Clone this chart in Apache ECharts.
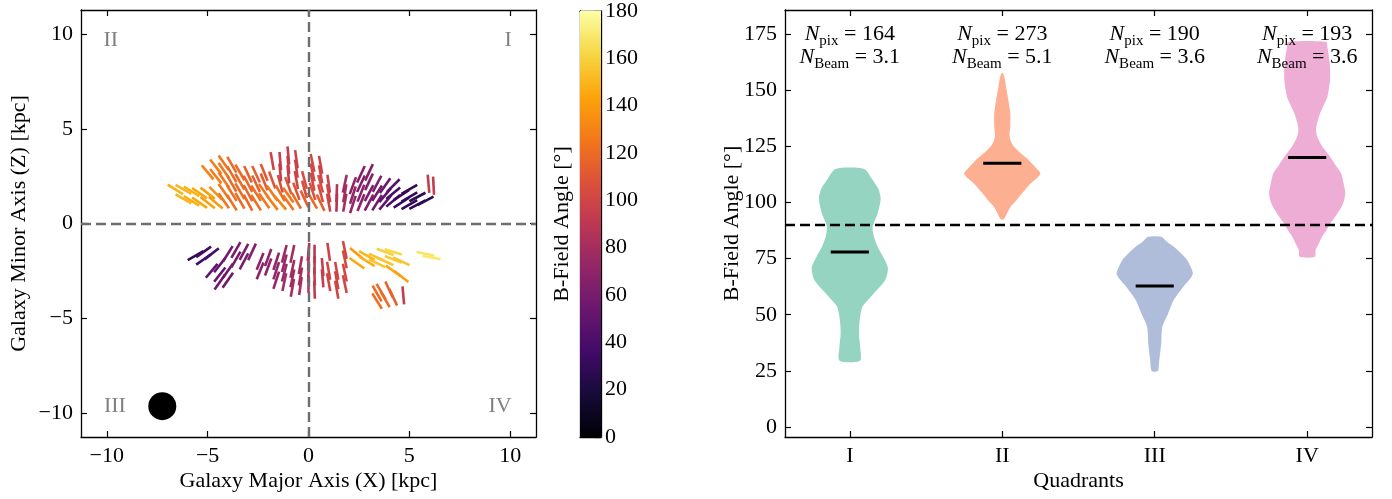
<!DOCTYPE html>
<html><head><meta charset="utf-8">
<script src="https://cdn.jsdelivr.net/npm/echarts@6/dist/echarts.min.js"></script>
<style>html,body{margin:0;padding:0;background:#fff}#c{width:1392px;height:499px}</style>
</head><body><div id="c"></div>
<script>
// ---------- DATA ----------
// Left panel: B-field vectors [x (kpc), z (kpc), angle (deg)]
const upperVectors = [
[-6.6,1.8,148],
[-6.2,1.3,150],[-6.2,1.8,150],
[-5.8,1.2,148],[-5.8,1.7,148],
[-5.4,1.1,145],[-5.4,1.6,145],
[-5.0,1.1,142],[-5.0,1.6,142],[-5.0,2.7,130],
[-4.6,1.1,140],[-4.6,1.6,135],[-4.6,2.5,128],[-4.6,3.0,128],
[-4.2,1.2,125],[-4.2,1.7,125],[-4.2,2.3,125],[-4.2,2.8,125],[-4.2,3.2,125],
[-3.8,1.1,122],[-3.8,1.6,122],[-3.8,2.1,120],[-3.8,2.6,120],[-3.8,3.1,120],
[-3.4,1.2,120],[-3.4,1.7,120],[-3.4,2.2,120],[-3.4,2.7,120],
[-3.0,1.1,118],[-3.0,1.6,118],[-3.0,2.1,118],[-3.0,2.6,115],
[-2.6,1.1,122],[-2.6,1.6,122],[-2.6,2.1,115],[-2.6,2.6,115],
[-2.2,1.2,125],[-2.2,1.7,125],[-2.2,2.2,112],[-2.2,2.7,112],
[-1.8,1.1,128],[-1.8,1.6,125],[-1.8,2.3,110],[-1.8,3.3,100],
[-1.4,1.1,130],[-1.4,1.6,120],[-1.4,2.1,105],[-1.4,2.7,95],[-1.4,3.3,95],
[-1.0,1.1,125],[-1.0,1.5,125],[-1.0,2.0,110],[-1.0,2.6,95],[-1.0,3.1,95],[-1.0,3.6,95],
[-0.6,1.2,120],[-0.6,1.7,110],[-0.6,2.3,100],[-0.6,2.9,98],[-0.6,3.4,98],
[-0.2,1.3,115],[-0.2,1.8,105],[-0.2,2.3,105],
[0.2,1.2,120],[0.2,1.7,108],[0.2,2.2,102],[0.2,2.7,102],[0.2,3.2,102],
[0.6,1.1,115],[0.6,1.6,105],[0.6,2.1,105],[0.6,2.6,100],[0.6,3.1,100],
[1.0,1.1,100],[1.0,1.6,100],[1.0,2.1,98],
[1.4,1.1,88],[1.4,1.6,88],
[1.8,1.1,80],[1.8,1.6,80],[1.8,2.1,78],
[2.2,1.0,72],[2.2,1.5,72],[2.2,2.0,70],
[2.6,1.1,68],[2.6,1.6,68],[2.6,2.1,65],[2.6,2.6,65],
[3.0,1.1,62],[3.0,1.6,62],[3.0,2.2,65],[3.0,2.7,65],
[3.4,1.1,58],[3.4,1.6,58],[3.4,2.1,62],
[3.8,1.1,50],[3.8,1.5,50],[3.8,2.0,55],
[4.2,1.2,40],[4.2,1.6,40],[4.2,2.0,45],
[4.6,1.1,33],[4.6,1.5,33],
[5.0,1.0,30],[5.0,1.4,30],[5.0,1.8,30],
[5.4,1.0,28],[5.4,1.4,28],
[5.8,1.2,28],
[5.95,2.1,95],[6.2,2.0,93]
];
const lowerVectors = [
[-5.6,-1.7,30],
[-5.2,-1.5,35],[-5.2,-1.9,35],
[-4.8,-1.6,38],[-4.8,-2.5,50],
[-4.4,-2.2,52],[-4.4,-2.7,52],[-4.4,-3.1,55],
[-4.0,-1.6,58],[-4.0,-2.5,55],[-4.0,-3.0,55],
[-3.6,-1.4,60],[-3.6,-1.9,60],
[-3.2,-1.5,62],[-3.2,-2.0,62],
[-2.8,-1.5,65],
[-2.4,-2.0,68],[-2.4,-2.5,68],
[-2.0,-1.8,70],[-2.0,-2.3,70],
[-1.6,-2.0,72],[-1.6,-2.5,72],[-1.6,-3.0,72],
[-1.2,-1.6,75],[-1.2,-2.1,75],[-1.2,-2.6,75],[-1.2,-3.1,78],
[-0.8,-1.6,78],[-0.8,-2.4,78],[-0.8,-2.9,78],[-0.8,-3.4,80],
[-0.4,-2.2,80],[-0.4,-2.8,80],[-0.4,-3.3,82],
[0.0,-1.5,85],[0.0,-2.0,88],[0.0,-2.6,88],[0.0,-3.2,90],
[0.3,-1.6,90],[0.3,-2.2,90],[0.3,-2.8,92],[0.3,-3.5,92],
[0.7,-2.3,95],[0.7,-2.9,95],
[1.0,-1.5,98],[1.0,-2.5,100],[1.0,-3.1,100],
[1.4,-2.5,100],[1.4,-3.0,100],[1.4,-3.5,100],
[1.8,-1.4,102],[1.8,-1.9,102],[1.8,-2.6,102],[1.8,-3.2,102],
[2.4,-1.6,140],[2.4,-2.1,145],
[2.9,-1.7,150],[2.9,-2.0,148],
[3.4,-1.8,155],[3.4,-2.1,155],[3.4,-3.7,120],[3.4,-4.1,122],
[3.8,-1.5,160],[3.8,-2.0,155],[3.6,-3.6,120],[3.8,-4.0,120],
[4.2,-1.5,163],[4.2,-1.9,158],[4.2,-2.5,145],[4.0,-3.5,115],[4.2,-3.9,115],
[4.6,-2.0,155],[4.6,-2.8,142],[4.7,-3.8,95],
[5.8,-1.6,168],[6.1,-1.8,170]
];
const quadrantLabels = [[-9.8, 9.7, 'II'], [9.9, 9.7, 'I'], [-9.6, -9.65, 'III'], [9.5, -9.65, 'IV']];
const beamPos = [[-7.25, -9.65]];
const xyTicks = [-10, -5, 0, 5, 10];

// Colorbar
const cbarTicks = [0, 20, 40, 60, 80, 100, 120, 140, 160, 180];

// Right panel: violins, profile = [angle, relative half-width]
const quadrantNames = ['I', 'II', 'III', 'IV'];
const violinI = [[29.5,0.27],[35.8,0.27],[41.7,0.24],[47.6,0.26],[53.6,0.33],[56.5,0.47],[59.5,0.63],[65.5,0.93],[70.7,1.0],[75,0.9],[80.3,0.73],[85,0.63],[89.2,0.6],[95.1,0.73],[101.8,0.81],[106,0.75],[110,0.6],[114.9,0.375]];
const violinII = [[92.5,0.04],[95,0.12],[98.1,0.22],[100.5,0.35],[103.3,0.48],[106,0.62],[108.5,0.75],[111,0.92],[113,1.0],[115.5,0.88],[117.5,0.77],[119.6,0.65],[122,0.48],[124.8,0.31],[127.5,0.22],[130,0.19],[133.7,0.21],[139.7,0.21],[145.6,0.16],[151.5,0.1],[155.5,0.06],[157.5,0.02]];
const violinIII = [[24.9,0.08],[29.8,0.12],[37.3,0.17],[44.7,0.2],[50.6,0.35],[56.6,0.5],[62.5,0.75],[66,0.93],[68.4,1.0],[71,0.95],[74.4,0.85],[77.5,0.68],[80.3,0.5],[82.5,0.32],[84.7,0.17]];
const violinIV = [[75.8,0.2],[78.8,0.22],[81.5,0.3],[84.7,0.39],[87.5,0.5],[90.7,0.61],[93.5,0.73],[96.6,0.85],[100,0.95],[104.1,1.0],[108,0.96],[113,0.89],[116.5,0.75],[120.4,0.6],[123.5,0.46],[126.3,0.35],[129,0.27],[132.3,0.23],[136,0.27],[139.7,0.34],[143.5,0.44],[147,0.53],[154.5,0.6],[160,0.6],[165,0.57],[169,0.53],[171.5,0.5]];
const medians = [77.9, 117.5, 62.8, 120.0];
const nPix = [164, 273, 190, 193];
const nBeam = [3.1, 5.1, 3.6, 3.6];
const refAngle = 90;
const rightYTicks = [0, 25, 50, 75, 100, 125, 150, 175];

// ---------- STYLE ----------
const FONT = 'Liberation Serif';
const FS = 22;
const inferno = ['#000004','#160b39','#420a68','#6a176e','#932667','#bc3754','#dd513a','#f37819','#fca50a','#f6d746','#fcffa4'];
const set2 = ['#66c2a5', '#fc8d62', '#8da0cb', '#e78ac3'];
const violins = [violinI, violinII, violinIII, violinIV];
const VW = 0.25; // max half width in category units
const minus = v => String(v).replace('-', '\u2212');

const chart = echarts.init(document.getElementById('c'), null, {renderer: 'canvas'});

function frameAxis(base) {
  return Object.assign({
    axisLine: {show: true, onZero: false, lineStyle: {color: '#000', width: 1.3}},
    axisTick: {show: true, inside: true, length: 6, lineStyle: {color: '#000', width: 1.2}},
    splitLine: {show: false},
    axisLabel: {show: false},
    nameMoveOverlap: false
  }, base);
}
const tick = vals => ({show: true, inside: true, length: 6, customValues: vals, lineStyle: {color: '#000', width: 1.2}});
const lab = {show: true, color: '#000', fontFamily: FONT, fontSize: FS, margin: 8};
const nameStyle = {color: '#000', fontFamily: FONT, fontSize: FS};
const LIM = 11.28;

const option = {
  animation: false,
  backgroundColor: '#fff',
  grid: [
    {left: 81, top: 10, width: 455, height: 427},
    {left: 580, top: 10, width: 21, height: 427},
    {left: 785, top: 10, width: 587, height: 427}
  ],
  xAxis: [
    frameAxis({gridIndex: 0, type: 'value', min: -LIM, max: LIM, position: 'bottom', axisTick: tick(xyTicks),
      axisLabel: Object.assign({}, lab, {customValues: xyTicks, formatter: minus}),
      name: 'Galaxy Major Axis (X) [kpc]', nameLocation: 'middle', nameGap: 33, nameTextStyle: nameStyle}),
    frameAxis({gridIndex: 0, type: 'value', min: -LIM, max: LIM, position: 'top', axisTick: tick(xyTicks)}),
    frameAxis({gridIndex: 1, type: 'value', min: 0, max: 1, position: 'bottom', axisTick: {show: false}}),
    frameAxis({gridIndex: 1, type: 'value', min: 0, max: 1, position: 'top', axisTick: {show: false}}),
    frameAxis({gridIndex: 2, type: 'value', min: 0.575, max: 4.425, position: 'bottom', axisTick: tick([1, 2, 3, 4]),
      axisLabel: Object.assign({}, lab, {customValues: [1, 2, 3, 4], formatter: v => quadrantNames[Math.round(v) - 1]}),
      name: 'Quadrants', nameLocation: 'middle', nameGap: 33, nameTextStyle: nameStyle}),
    frameAxis({gridIndex: 2, type: 'value', min: 0.575, max: 4.425, position: 'top', axisTick: tick([1, 2, 3, 4])})
  ],
  yAxis: [
    frameAxis({gridIndex: 0, type: 'value', min: -LIM, max: LIM, position: 'left', axisTick: tick(xyTicks),
      axisLabel: Object.assign({}, lab, {customValues: xyTicks, formatter: minus}),
      name: 'Galaxy Minor Axis (Z) [kpc]', nameLocation: 'middle', nameGap: 51, nameRotate: 90, nameTextStyle: nameStyle}),
    frameAxis({gridIndex: 0, type: 'value', min: -LIM, max: LIM, position: 'right', axisTick: tick(xyTicks)}),
    frameAxis({gridIndex: 1, type: 'value', min: 0, max: 180, position: 'right', axisTick: tick(cbarTicks),
      axisLabel: Object.assign({}, lab, {customValues: cbarTicks, margin: 4})}),
    frameAxis({gridIndex: 1, type: 'value', min: 0, max: 180, position: 'left', axisTick: {show: false},
      name: 'B-Field Angle [°]', nameLocation: 'middle', nameGap: 7, nameRotate: 90, nameTextStyle: nameStyle}),
    frameAxis({gridIndex: 2, type: 'value', min: -4.45, max: 185.7, position: 'left', axisTick: tick(rightYTicks),
      axisLabel: Object.assign({}, lab, {customValues: rightYTicks}),
      name: 'B-Field Angle [°]', nameLocation: 'middle', nameGap: 42, nameRotate: 90, nameTextStyle: nameStyle}),
    frameAxis({gridIndex: 2, type: 'value', min: -4.45, max: 185.7, position: 'right', axisTick: tick(rightYTicks)})
  ],
  visualMap: [{
    type: 'continuous', show: false, min: 0, max: 180, dimension: 2, seriesIndex: [0, 1],
    inRange: {color: inferno}
  }],
  series: []
};

function vectorSeries(data) {
  return {
    type: 'custom', xAxisIndex: 0, yAxisIndex: 0, data: data, z: 3,
    renderItem: function (params, api) {
      const c = api.coord([api.value(0), api.value(1)]);
      const a = api.value(2) * Math.PI / 180;
      const h = api.size([0.9, 0])[0] / 2;
      const dx = h * Math.cos(a), dy = -h * Math.sin(a);
      return {type: 'line', shape: {x1: c[0] - dx, y1: c[1] - dy, x2: c[0] + dx, y2: c[1] + dy},
        style: {stroke: api.visual('color'), lineWidth: 2.6}};
    }
  };
}
option.series.push(vectorSeries(upperVectors));
option.series.push(vectorSeries(lowerVectors));

// dashed axes lines left panel
option.series.push({
  type: 'line', xAxisIndex: 0, yAxisIndex: 0, data: [], z: 4,
  markLine: {symbol: 'none', silent: true, label: {show: false},
    lineStyle: {color: '#6e6e6e', width: 2.4, type: [10, 5]},
    data: [{xAxis: 0}, {yAxis: 0}]}
});
// quadrant labels
option.series.push({
  type: 'scatter', xAxisIndex: 0, yAxisIndex: 0, symbolSize: 0, data: quadrantLabels,
  itemStyle: {opacity: 1},
  label: {show: true, position: 'inside', formatter: p => p.value[2], color: '#808080', fontFamily: FONT, fontSize: FS}
});
// beam
option.series.push({
  type: 'scatter', xAxisIndex: 0, yAxisIndex: 0, symbol: 'circle', symbolSize: 28, data: beamPos,
  itemStyle: {color: '#000', opacity: 1}
});
// colorbar
option.series.push({
  type: 'custom', xAxisIndex: 2, yAxisIndex: 2, data: [[0, 1, 0, 180]],
  renderItem: function (params, api) {
    const p0 = api.coord([api.value(0), api.value(2)]);
    const p1 = api.coord([api.value(1), api.value(3)]);
    return {type: 'rect', shape: {x: p0[0], y: p1[1], width: p1[0] - p0[0], height: p0[1] - p1[1]},
      style: {fill: new echarts.graphic.LinearGradient(0, 1, 0, 0,
        inferno.map((c, i) => ({offset: i / (inferno.length - 1), color: c})))}};
  }
});
// violins
option.series.push({
  type: 'custom', xAxisIndex: 4, yAxisIndex: 4, data: [[1], [2], [3], [4]], z: 2,
  renderItem: function (params, api) {
    const cat = api.value(0);
    const prof = violins[params.dataIndex];
    const pts = [];
    prof.forEach(p => pts.push(api.coord([cat + p[1] * VW, p[0]])));
    for (let i = prof.length - 1; i >= 0; i--) pts.push(api.coord([cat - prof[i][1] * VW, prof[i][0]]));
    return {type: 'polygon', shape: {points: pts, smooth: 0.25},
      style: {fill: set2[params.dataIndex], opacity: 0.7}};
  }
});
// medians
option.series.push({
  type: 'custom', xAxisIndex: 4, yAxisIndex: 4, z: 5,
  data: medians.map((m, i) => [i + 1, m]),
  renderItem: function (params, api) {
    const a = api.coord([api.value(0) - 0.125, api.value(1)]);
    const b = api.coord([api.value(0) + 0.125, api.value(1)]);
    return {type: 'line', shape: {x1: a[0], y1: a[1], x2: b[0], y2: b[1]}, style: {stroke: '#000', lineWidth: 3}};
  }
});
// reference line 90
option.series.push({
  type: 'line', xAxisIndex: 4, yAxisIndex: 4, data: [], z: 6,
  markLine: {symbol: 'none', silent: true, label: {show: false},
    lineStyle: {color: '#000', width: 2.4, type: [10, 5]}, data: [{yAxis: refAngle}]}
});
// annotations
option.series.push({
  type: 'scatter', xAxisIndex: 4, yAxisIndex: 4, symbolSize: 0, z: 7,
  itemStyle: {opacity: 1},
  data: nPix.map((n, i) => [i + 1, 170, n, nBeam[i]]),
  label: {
    show: true, position: 'inside', color: '#000', fontFamily: FONT, fontSize: FS,
    formatter: p => '{i|N}{s|pix}{n| = ' + p.value[2] + '}\n{i|N}{s|Beam}{n| = ' + p.value[3].toFixed(1) + '}',
    rich: {
      i: {fontFamily: FONT, fontSize: FS, fontStyle: 'italic', color: '#000', lineHeight: 23},
      s: {fontFamily: FONT, fontSize: 15, color: '#000', verticalAlign: 'top', padding: [11, 0, 0, 0], lineHeight: 15},
      n: {fontFamily: FONT, fontSize: FS, color: '#000', lineHeight: 23}
    }
  }
});

chart.setOption(option);
</script></body></html>
